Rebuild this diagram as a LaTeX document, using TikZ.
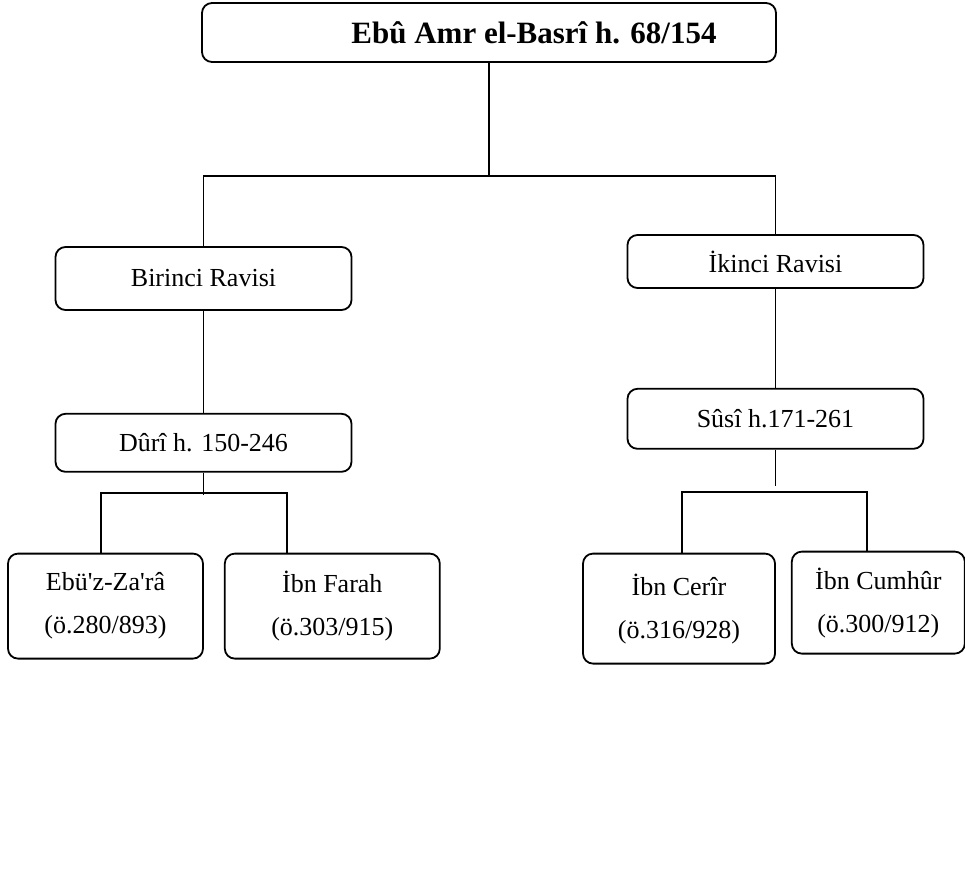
\documentclass[tikz,border=0pt]{standalone}
\usepackage{fontspec}
\setmainfont{Liberation Serif}
\usetikzlibrary{positioning}

\begin{document}
\begin{tikzpicture}[x=1pt, y=-1pt, line width=1.8pt,
    kutu/.style={draw, rectangle, rounded corners=10pt, inner sep=0pt, align=center, font=\fontsize{26pt}{43pt}\selectfont},
    ravi/.style={kutu, minimum width=296pt}]
    \useasboundingbox (0,0) rectangle (965,873);

    \node [kutu, minimum width=574pt, minimum height=59pt, font=\bfseries\fontsize{31pt}{37pt}\selectfont] (ebu) at (489,32.5)
      {\hspace*{90pt}Ebû Amr el-Basrî h. 68/154};

    \node [ravi, minimum height=63pt] (birinci) at (203.5,278.5) {Birinci Ravisi};
    \node [ravi, minimum height=53pt] (ikinci) at (775.5,261.5) {İkinci Ravisi};

    \node [ravi, minimum height=58pt, below=102pt of birinci] (duri) {Dûrî h. 150-246};
    \node [ravi, minimum height=60pt, below=99pt of ikinci] (susi) {Sûsî h.171-261};

    \node [kutu, minimum width=195pt, minimum height=105pt, below=80pt of duri, xshift=-98pt] (ebuz)
      {Ebü\textquotesingle z-Za\textquotesingle râ\\(ö.280/893)};
    \node [kutu, minimum width=215pt, minimum height=105pt, right=20pt of ebuz] (farah)
      {İbn Farah\\(ö.303/915)};
    \node [kutu, minimum width=192pt, minimum height=110pt, below=103pt of susi, xshift=-96.5pt] (cerir)
      {İbn Cerîr\\(ö.316/928)};
    \node [kutu, minimum width=173pt, minimum height=102pt, right=15pt of cerir, yshift=6pt] (cumhur)
      {İbn Cumhûr\\(ö.300/912)};

    \coordinate (kol) at (489,176);
    \draw (ebu) -- (kol);
    \draw (birinci.north) |- (kol) -| (ikinci.north);
    \draw (birinci) -- (duri);
    \draw (ikinci) -- (susi);

    \draw (duri.south) -- ++(0,22);
    \path (duri.south) ++(0,20) coordinate (sol);
    \draw ([xshift=94pt]ebuz.north west) |- (sol) -| ([xshift=63pt]farah.north west);

    \draw (susi.south) -- ++(0,36);
    \path (susi.south) ++(0,42) coordinate (sag);
    \draw ([xshift=100pt]cerir.north west) |- (sag) -| ([xshift=76pt]cumhur.north west);
  \end{tikzpicture}
\end{document}
